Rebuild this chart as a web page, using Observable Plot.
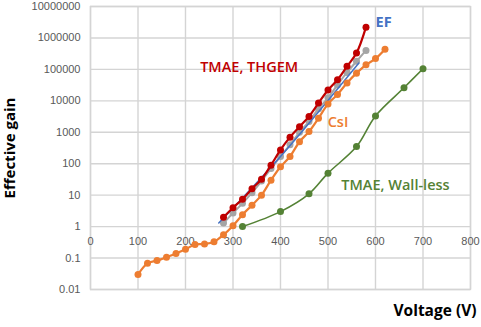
<!DOCTYPE html>
<html>
<head>
<meta charset="utf-8">
<script src="https://cdn.jsdelivr.net/npm/d3@7"></script>
<script src="https://cdn.jsdelivr.net/npm/@observablehq/plot@0.6"></script>
<style>
  html, body { margin: 0; padding: 0; background: #fff; }
</style>
</head>
<body>
<div id="chart"></div>
<script>
// Tick values
const xTicks = [0, 100, 200, 300, 400, 500, 600, 700, 800];
const yTicks = [0.01, 0.1, 1, 10, 100, 1000, 10000, 100000, 1000000, 10000000];

// CsI (orange)
const csiV = [100, 120, 140, 160, 180, 200, 220, 240, 260, 280, 300, 320, 340, 360, 380, 400, 420, 440, 460, 480, 500, 520, 540, 560, 580, 600, 620];
const csiG = [0.03, 0.068, 0.083, 0.107, 0.14, 0.19, 0.27, 0.28, 0.33, 0.55, 1.07, 2.4, 4.8, 10, 30, 80, 170, 500, 1050, 2800, 8000, 16000, 37000, 76000, 140000, 220000, 440000];

// TMAE, THGEM (red)
const thgemV = [280, 300, 320, 340, 360, 380, 400, 420, 440, 460, 480, 500, 520, 540, 560, 580];
const thgemG = [2, 4, 7.4, 16, 32, 90, 275, 700, 1500, 3200, 8500, 22000, 47000, 125000, 330000, 2200000];

// EF (grey data)
const efV = [280, 300, 320, 340, 360, 380, 400, 420, 440, 460, 480, 500, 520, 540, 560, 580];
const efG = [1.3, 2.7, 5.5, 12, 28, 70, 170, 400, 1000, 2200, 5600, 12500, 32000, 80000, 180000, 400000];

// EF fit (blue line)
const fitV = [270, 400, 565];
const fitG = [1.3, 170, 160000];

// TMAE, Wall-less (green)
const wallV = [320, 400, 460, 500, 560, 600, 660, 700];
const wallG = [1, 3, 11, 50, 350, 3300, 26000, 105000];

const zip = (xs, ys) => xs.map((x, i) => ({x, y: ys[i]}));
const csi = zip(csiV, csiG);
const thgem = zip(thgemV, thgemG);
const ef = zip(efV, efG);
const fit = zip(fitV, fitG);
const wall = zip(wallV, wallG);

const RED = "#c00000", ORANGE = "#ed7d31", GREEN = "#548235", GREY = "#a5a5a5", BLUE = "#4472c4";
const gridColor = "#d4d4d4";
const LABEL_FONT = "'Open Sans', sans-serif";

const fmt = d => String(d);

const chart = Plot.plot({
  width: 481,
  height: 327,
  marginLeft: 90,
  marginRight: 11,
  marginTop: 6,
  marginBottom: 38,
  style: {fontFamily: "'Liberation Sans', Arial, sans-serif", background: "#fff"},
  x: {domain: [0, 800]},
  y: {type: "log", domain: [0.01, 10000000]},
  marks: [
    Plot.gridX(xTicks, {stroke: gridColor, strokeOpacity: 1, strokeWidth: 1.4}),
    Plot.gridY(yTicks, {stroke: gridColor, strokeOpacity: 1, strokeWidth: 1.4}),
    Plot.frame({stroke: gridColor, strokeWidth: 1.4}),
    Plot.axisY(yTicks, {tickSize: 0, tickPadding: 10, tickFormat: fmt, fontSize: 11, fill: "#595959", label: null}),
    Plot.axisX({ticks: [], tickSize: 0, label: null}),
    Plot.text(xTicks, {x: d => d, y: () => 1, dy: 15, text: d => String(d), fontSize: 11, fill: "#595959"}),
    // EF grey data
    Plot.line(ef, {x: "x", y: "y", stroke: GREY, strokeWidth: 2, curve: "catmull-rom"}),
    Plot.dot(ef, {x: "x", y: "y", fill: GREY, r: 3.5}),
    // EF fit
    Plot.line(fit, {x: "x", y: "y", stroke: BLUE, strokeWidth: 1.5, curve: "catmull-rom"}),
    // CsI
    Plot.line(csi, {x: "x", y: "y", stroke: ORANGE, strokeWidth: 2.2, curve: "catmull-rom"}),
    Plot.dot(csi, {x: "x", y: "y", fill: ORANGE, r: 3.5}),
    // THGEM
    Plot.line(thgem, {x: "x", y: "y", stroke: RED, strokeWidth: 2.2, curve: "catmull-rom"}),
    Plot.dot(thgem, {x: "x", y: "y", fill: RED, r: 3.5}),
    // Wall-less
    Plot.line(wall, {x: "x", y: "y", stroke: GREEN, strokeWidth: 1.6, curve: "catmull-rom"}),
    Plot.dot(wall, {x: "x", y: "y", fill: GREEN, r: 3.5}),
    // Series labels
    Plot.text(["TMAE, THGEM"], {x: 334, y: 120000, text: d => d, fill: RED, fontSize: 14.5, fontWeight: 600, fontFamily: LABEL_FONT}),
    Plot.text(["CsI"], {x: 521, y: 2000, text: d => d, fill: ORANGE, fontSize: 14.5, fontWeight: 600, fontFamily: LABEL_FONT}),
    Plot.text(["TMAE, Wall-less"], {x: 642, y: 21, text: d => d, fill: GREEN, fontSize: 14.5, fontWeight: 600, fontFamily: LABEL_FONT}),
    Plot.text(["EF"], {x: 617, y: 3100000, text: d => d, fill: BLUE, fontSize: 14.5, fontWeight: "bold", fontFamily: LABEL_FONT}),
    // Axis titles
    Plot.text(["Effective gain"], {frameAnchor: "left", textAnchor: "middle", dx: -80, rotate: -90, text: d => d, fontSize: 15, fontWeight: "bold", fill: "#000", fontFamily: LABEL_FONT}),
    Plot.text(["Voltage (V)"], {frameAnchor: "bottom-right", textAnchor: "end", dx: 6, dy: 26, text: d => d, fontSize: 15.5, fontWeight: "bold", fill: "#000", fontFamily: LABEL_FONT})
  ]
});
document.getElementById("chart").appendChild(chart);
</script>
</body>
</html>
